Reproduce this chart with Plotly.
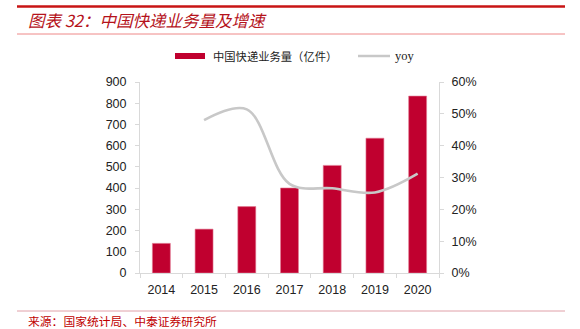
import plotly.graph_objects as go

years = ["2014", "2015", "2016", "2017", "2018", "2019", "2020"]
volume = [139.6, 206.7, 312.8, 400.6, 507.1, 635.2, 833.6]
yoy_years = ["2015", "2016", "2017", "2018", "2019", "2020"]
yoy = [0.480, 0.514, 0.280, 0.266, 0.253, 0.312]

left_ticks = [0, 100, 200, 300, 400, 500, 600, 700, 800, 900]
right_ticks = [0, 0.1, 0.2, 0.3, 0.4, 0.5, 0.6]

title_text = "图表 32：中国快递业务量及增速"
source_text = "来源：国家统计局、中泰证券研究所"
bar_name = "中国快递业务量（亿件）"
line_name = "yoy"

RED = "#c0002f"
GRAY = "#c8c8c8"
AXIS = "#d9d9d9"
TXT = "#222222"

W, H = 580, 329
L, R, T, B = 140, 141, 82, 56
pw, ph = W - L - R, H - T - B


def px(x):
    return (x - L) / pw


def py(y):
    return (H - B - y) / ph


fig = go.Figure()
fig.add_trace(go.Bar(x=years, y=volume, name=bar_name, marker=dict(color=RED, line=dict(color="#e27a94", width=0.6)),
                     width=0.42, showlegend=False))
fig.add_trace(go.Scatter(x=yoy_years, y=yoy, name=line_name, yaxis="y2", mode="lines",
                         line=dict(color=GRAY, width=2.6, shape="spline", smoothing=1.0), showlegend=False))

tickfont = dict(family="Liberation Sans, Arial", size=12.5, color=TXT)

fig.update_layout(
    width=W, height=H,
    margin=dict(l=L, r=R, t=T, b=B, pad=0),
    paper_bgcolor="white", plot_bgcolor="white",
    bargap=0.58,
    xaxis=dict(type="category", showline=True, linecolor=AXIS, linewidth=1, ticks="outside", tickson="boundaries",
               ticklen=4, tickcolor=AXIS, showgrid=False, tickfont=tickfont, ticklabelstandoff=5),
    yaxis=dict(range=[0, 900], tickvals=left_ticks, showline=True, linecolor=AXIS, linewidth=1, ticks="outside",
               ticklen=4, tickcolor=AXIS, showgrid=False, zeroline=False, tickfont=tickfont, ticklabelstandoff=6),
    yaxis2=dict(range=[0, 0.6], tickvals=right_ticks, tickformat=".0%", overlaying="y", side="right",
                showline=True, linecolor=AXIS, linewidth=1, ticks="outside", ticklen=4, tickcolor=AXIS,
                showgrid=False, zeroline=False, tickfont=tickfont, ticklabelstandoff=5),
    font=dict(family="Noto Sans CJK SC"),
)

shapes = [
    dict(type="line", xref="paper", yref="paper", x0=px(17), x1=px(565), y0=py(6.5), y1=py(6.5),
         line=dict(color="#c81414", width=2.5)),
    dict(type="line", xref="paper", yref="paper", x0=px(17), x1=px(565), y0=py(34), y1=py(34),
         line=dict(color="#ee8888", width=1)),
    dict(type="line", xref="paper", yref="paper", x0=px(17), x1=px(565), y0=py(311), y1=py(311),
         line=dict(color="#e0a0a8", width=1)),
    # legend samples
    dict(type="rect", xref="paper", yref="paper", x0=px(175), x1=px(205), y0=py(59), y1=py(53),
         fillcolor=RED, line=dict(width=0)),
    dict(type="line", xref="paper", yref="paper", x0=px(358), x1=px(390), y0=py(56), y1=py(56),
         line=dict(color=GRAY, width=2.5)),
]
fig.update_layout(shapes=shapes)

ann = [
    dict(text=title_text, x=px(26), y=py(20), xref="paper", yref="paper", xanchor="left", yanchor="middle",
         showarrow=False, font=dict(family="Noto Sans CJK SC", size=16.5, color="#b5121b", style="italic")),
    dict(text=source_text, x=px(26), y=py(320.5), xref="paper", yref="paper", xanchor="left", yanchor="middle",
         showarrow=False, font=dict(family="Noto Sans CJK SC", size=11.8, color="#c00000")),
    dict(text=bar_name, x=px(211), y=py(56), xref="paper", yref="paper", xanchor="left", yanchor="middle",
         showarrow=False, font=dict(family="Noto Sans CJK SC", size=11.3, color=TXT)),
    dict(text=line_name, x=px(393), y=py(56), xref="paper", yref="paper", xanchor="left", yanchor="middle",
         showarrow=False, font=dict(family="Liberation Serif", size=12.5, color=TXT)),
]
fig.update_layout(annotations=ann)

fig.write_html("out.html")
